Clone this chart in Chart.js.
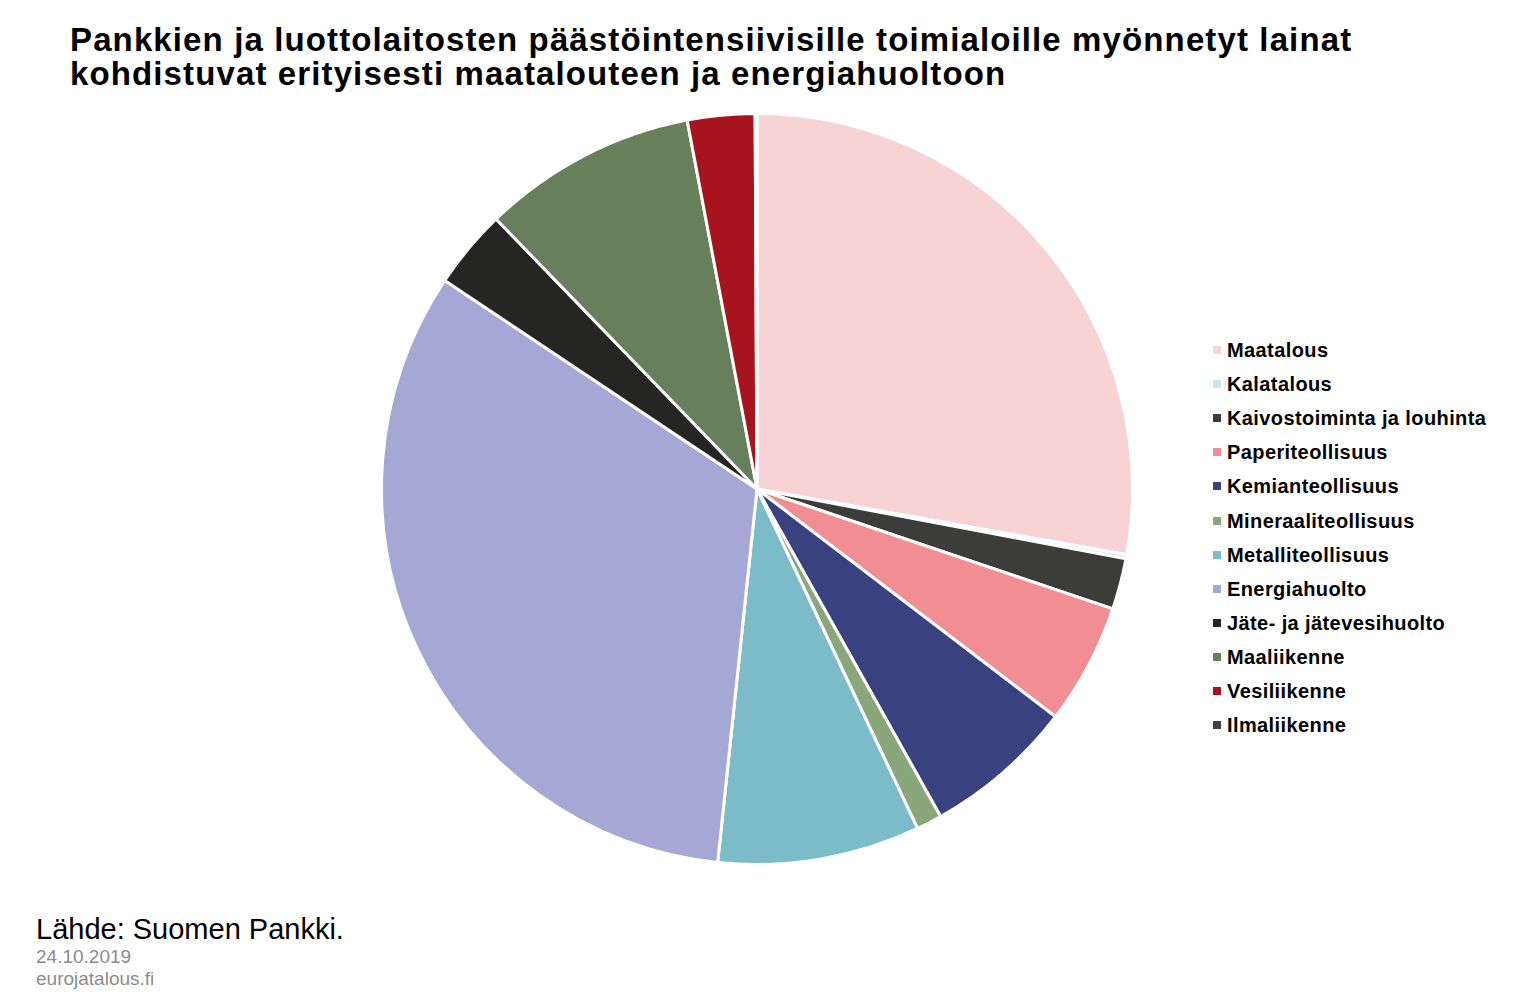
<!DOCTYPE html>
<html>
<head>
<meta charset="utf-8">
<script src="https://cdn.jsdelivr.net/npm/chart.js@4/dist/chart.umd.min.js"></script>
<style>
  html,body{margin:0;padding:0;background:#fff;width:1514px;height:1000px;overflow:hidden;font-family:"Liberation Sans",Arial,sans-serif;}
  #title{position:absolute;left:70px;top:23px;font-weight:bold;font-size:33px;line-height:34px;letter-spacing:1.12px;color:#000;white-space:nowrap;}
  #chartBox{position:absolute;left:380px;top:112px;width:754px;height:754px;}
  #legend{position:absolute;left:1213px;top:333px;}
  .li{height:34.1px;display:flex;align-items:center;position:relative;}
  .li .sw{width:8px;height:8px;margin-right:6px;flex:none;}
  .li .tx{font-weight:bold;font-size:20px;letter-spacing:0.4px;color:#000;white-space:nowrap;line-height:24px;}
  #src{position:absolute;left:36px;top:913px;font-size:29px;color:#000;white-space:nowrap;}
  #date{position:absolute;left:36px;top:946px;font-size:19px;color:#8c8c8c;}
  #site{position:absolute;left:36px;top:968px;font-size:19px;color:#8c8c8c;}
</style>
</head>
<body>
<div id="title">Pankkien ja luottolaitosten päästöintensiivisille toimialoille myönnetyt lainat<br>kohdistuvat erityisesti maatalouteen ja energiahuoltoon</div>
<div id="chartBox"><canvas id="c" width="754" height="754"></canvas></div>
<div id="legend"></div>
<div id="src">Lähde: Suomen Pankki.</div>
<div id="date">24.10.2019</div>
<div id="site">eurojatalous.fi</div>
<script>
const categories = ["Maatalous","Kalatalous","Kaivostoiminta ja louhinta","Paperiteollisuus","Kemianteollisuus","Mineraaliteollisuus","Metalliteollisuus","Energiahuolto","Jäte- ja jätevesihuolto","Maaliikenne","Vesiliikenne","Ilmaliikenne"];
const shares = [27.8, 0.17, 2.2, 5.2, 6.5, 1.1, 8.7, 32.7, 3.4, 9.25, 2.9, 0.08];
const colors = ["#F8D3D4","#C9E6EA","#3C3C3B","#F08E93","#3A417F","#8AA67B","#7BBCC8","#A5A8D4","#252524","#677F5A","#A8141E","#404040"];

const lg = document.getElementById('legend');
categories.forEach((c,i)=>{
  const d=document.createElement('div');d.className='li';
  d.innerHTML='<span class="sw" style="background:'+colors[i]+'"></span><span class="tx">'+c+'</span>';
  lg.appendChild(d);
});

new Chart(document.getElementById('c'),{
  type:'pie',
  data:{labels:categories,datasets:[{data:shares,backgroundColor:colors,borderColor:'#ffffff',borderWidth:3}]},
  options:{
    responsive:false,animation:false,
    layout:{padding:0},
    plugins:{legend:{display:false},tooltip:{enabled:false},title:{display:false}}
  }
});
</script>
</body>
</html>
